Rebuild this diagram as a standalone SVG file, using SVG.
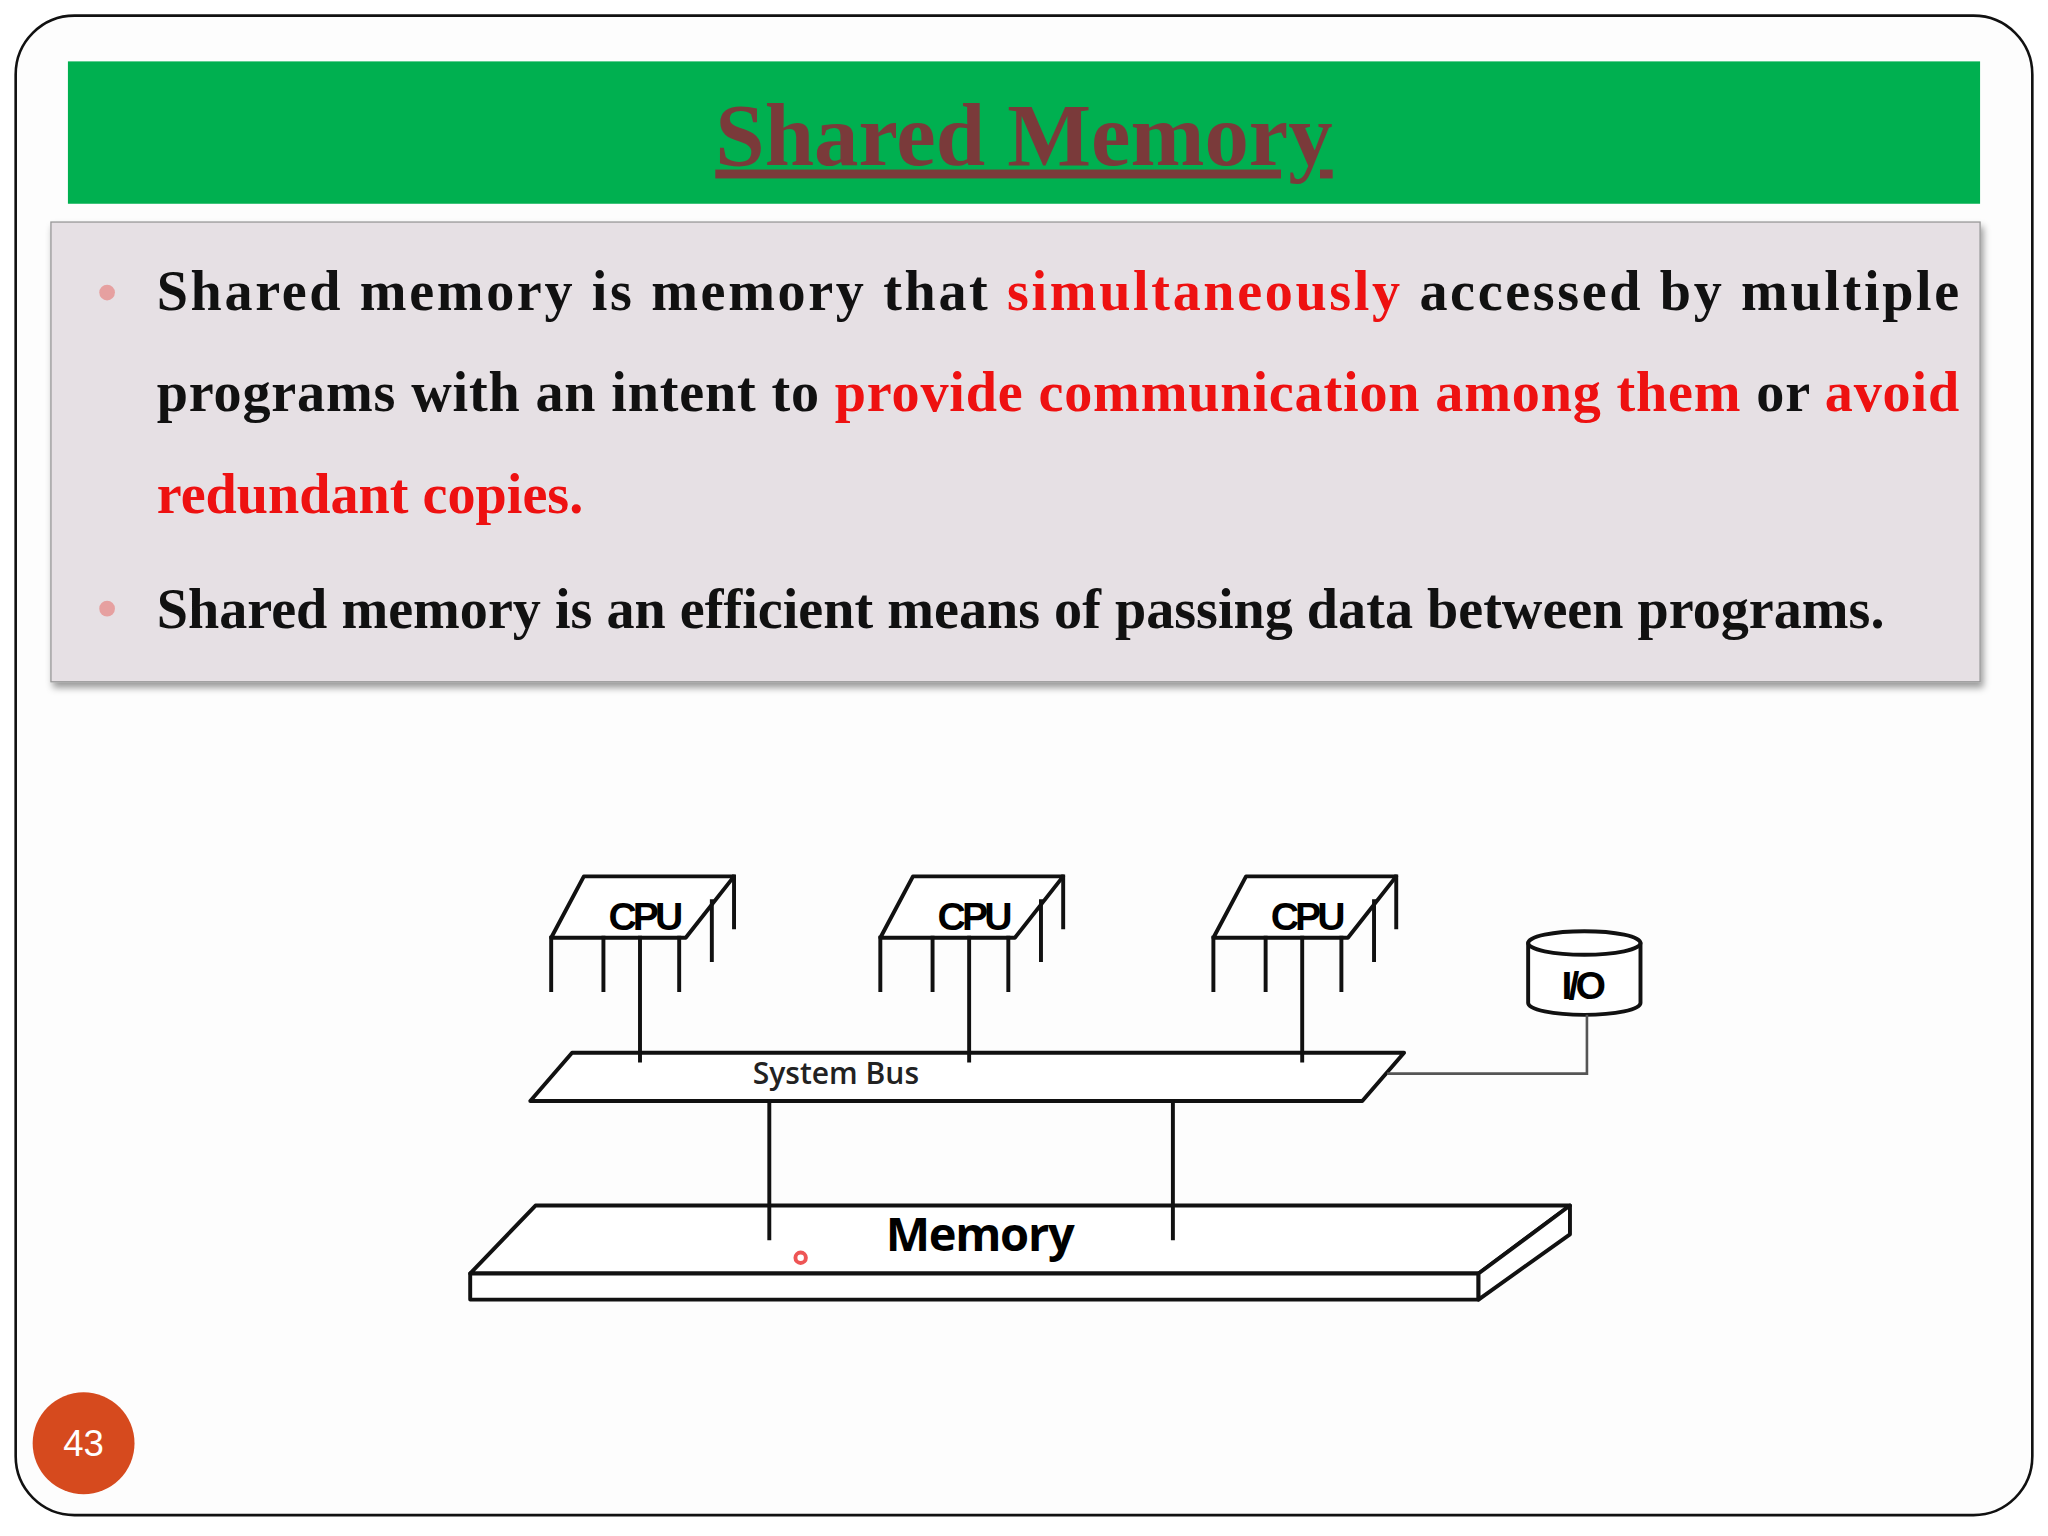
<svg xmlns="http://www.w3.org/2000/svg" width="2048" height="1536" viewBox="0 0 2048 1536">
<defs>
<style>
.ln{fill:none;stroke:#111;stroke-width:3;stroke-linecap:square}
.shape{fill:#fff;stroke:#111;stroke-width:3;stroke-linejoin:round}
.body{font-family:"Liberation Serif",serif;font-weight:bold;font-size:43px;fill:#111}
.red{fill:#ee1111}
.cpu{font-family:"Liberation Sans Narrow","Liberation Sans",sans-serif;font-weight:bold;font-size:30px;text-anchor:middle;letter-spacing:-3px}
</style>
<filter id="sh" x="-5%" y="-5%" width="110%" height="115%"><feDropShadow dx="2" dy="4" stdDeviation="3" flood-opacity="0.4"/></filter>
<g id="chip">
<path class="shape" d="M447,671 L562,671 L525,718 L422,718 Z"/>
<path class="ln" d="M422,718V758 M462,718V758 M520,718V758 M545,690V735 M562,671V710"/>
<text x="493" y="712" class="cpu">CPU</text>
</g>
</defs>
<rect width="2048" height="1536" fill="#fff"/>
<g transform="scale(1.30612)">
<rect x="12" y="12" width="1544" height="1148" rx="45" fill="#fdfdfd" stroke="#111" stroke-width="2"/>
<g id="header">
<rect x="52" y="47" width="1464" height="109" fill="#00b050"/>
<text x="784" y="126" text-anchor="middle" font-family="Liberation Serif,serif" font-weight="bold" font-size="68" fill="#7a3a3a" text-decoration="underline">Shared Memory</text>
</g>
<g id="textbox">
<rect x="39" y="170" width="1477" height="352" fill="#e6e0e4" stroke="#999" stroke-width="1" filter="url(#sh)"/>
<circle cx="82" cy="224" r="6" fill="#e6a0a0"/>
<circle cx="82" cy="466" r="6" fill="#e6a0a0"/>
<text class="body" x="120" y="237" textLength="1380" lengthAdjust="spacing">Shared memory is memory that <tspan class="red">simultaneously</tspan> accessed by multiple</text>
<text class="body" x="120" y="315" textLength="1380" lengthAdjust="spacing">programs with an intent to <tspan class="red">provide communication among them</tspan> or <tspan class="red">avoid</tspan></text>
<text class="body red" x="120" y="393">redundant copies.</text>
<text class="body" x="120" y="481">Shared memory is an efficient means of passing data between programs.</text>
</g>
<g id="cpu1"><use href="#chip"/></g>
<g id="cpu2"><use href="#chip" x="252"/></g>
<g id="cpu3"><use href="#chip" x="507"/></g>
<g id="io">
<path class="shape" d="M1170,722 V768 A43,9 0 0 0 1256,768 V722 Z"/>
<ellipse cx="1213" cy="722" rx="43" ry="9" class="shape"/>
<text x="1211" y="765" class="cpu">I/O</text>
</g>
<g id="bus">
<path class="shape" d="M438,806 L1075,806 L1043,843 L406,843 Z"/>
<text x="640" y="830" font-family="Open Sans,sans-serif" font-weight="600" font-size="23" text-anchor="middle" fill="#222">System Bus</text>
</g>
<g id="memory">
<path class="shape" d="M410,923 L1202,923 L1132,975 L360,975 Z"/>
<path class="shape" d="M360,975 H1132 V995 H360 Z"/>
<path class="shape" d="M1132,975 L1202,923 V945 L1132,995 Z"/>
<text x="750" y="958" font-family="Open Sans,sans-serif" font-weight="bold" font-size="36" text-anchor="middle" letter-spacing="-1">Memory</text>
<circle cx="613" cy="963" r="4" fill="none" stroke="#e55" stroke-width="3"/>
</g>
<g id="connectors">
<path class="ln" d="M490,718V812 M742,718V812 M997,718V812"/>
<path d="M1215,777V822H1062" fill="none" stroke="#555" stroke-width="2"/>
<path class="ln" d="M589,843V948 M898,843V948"/>
</g>
<g id="pagenum">
<circle cx="64" cy="1105" r="39" fill="#d64a1e"/>
<text x="64" y="1115" font-family="Liberation Sans,sans-serif" font-size="28" fill="#fff" text-anchor="middle">43</text>
</g>
</g>
</svg>
